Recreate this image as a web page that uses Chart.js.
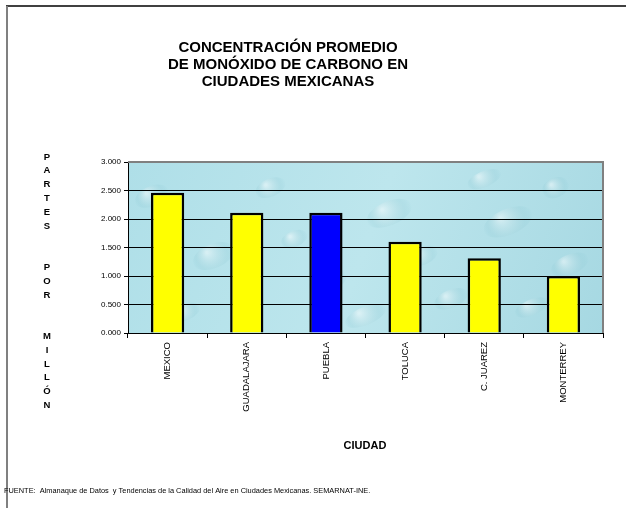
<!DOCTYPE html>
<html>
<head>
<meta charset="utf-8">
<script src="https://cdn.jsdelivr.net/npm/chart.js@4.4.1/dist/chart.umd.min.js"></script>
<style>
  html, body { margin: 0; padding: 0; background: #ffffff; }
  #wrap { width: 626px; height: 508px; position: relative; }
</style>
</head>
<body>
<div id="wrap"><canvas id="c" width="626" height="508"></canvas></div>
<script>
const categories = ['MEXICO', 'GUADALAJARA', 'PUEBLA', 'TOLUCA', 'C. JUAREZ', 'MONTERREY'];
const values = [2.46, 2.11, 2.11, 1.60, 1.31, 1.00];
const barColors = ['#ffff00', '#ffff00', '#0000ff', '#ffff00', '#ffff00', '#ffff00'];
const titleLines = ['CONCENTRACIÓN PROMEDIO', 'DE MONÓXIDO DE CARBONO EN', 'CIUDADES MEXICANAS'];
const yLabelLetters = ['P','A','R','T','E','S','','','P','O','R','','','M','I','L','L','Ó','N'];
const xTitle = 'CIUDAD';
const footer = 'FUENTE:  Almanaque de Datos  y Tendencias de la Calidad del Aire en Ciudades Mexicanas. SEMARNAT-INE.';
const yMin = 0, yMax = 3, yStep = 0.5;

const decor = {
  id: 'decor',
  beforeDraw(chart) {
    const { ctx, chartArea: a } = chart;
    ctx.save();
    ctx.fillStyle = '#ffffff';
    ctx.fillRect(0, 0, chart.width, chart.height);
    // frame
    ctx.strokeStyle = '#000000';
    ctx.lineWidth = 1.5;
    ctx.beginPath(); ctx.moveTo(6, 6); ctx.lineTo(626, 6); ctx.stroke();
    ctx.strokeStyle = '#808080';
    ctx.lineWidth = 2;
    ctx.beginPath(); ctx.moveTo(7, 6); ctx.lineTo(7, 508); ctx.stroke();
    // water-like background
    const g = ctx.createLinearGradient(a.left, a.top, a.right, a.bottom);
    g.addColorStop(0, '#afdfe8');
    g.addColorStop(0.5, '#bde6ed');
    g.addColorStop(1, '#a6d8e2');
    ctx.fillStyle = g;
    ctx.fillRect(a.left, a.top, a.right - a.left, a.bottom - a.top);
    ctx.beginPath(); ctx.rect(a.left, a.top, a.right - a.left, a.bottom - a.top); ctx.clip();
    const w = a.right - a.left, h = a.bottom - a.top;
    const drops = [[0.05,0.2,18,10],[0.18,0.55,22,12],[0.3,0.15,16,9],[0.42,0.7,20,11],[0.55,0.3,24,12],[0.68,0.8,18,9],[0.8,0.35,26,13],[0.93,0.6,20,10],[0.12,0.88,16,8],[0.5,0.9,22,9],[0.75,0.1,18,8],[0.9,0.15,14,10],[0.35,0.45,14,8],[0.62,0.55,16,9],[0.25,0.75,12,7],[0.85,0.85,18,8]];
    drops.forEach(([fx, fy, rx, ry]) => {
      const cx = a.left + fx * w, cy = a.top + fy * h;
      const rg = ctx.createRadialGradient(cx - rx * 0.3, cy - ry * 0.3, 1, cx, cy, rx);
      rg.addColorStop(0, 'rgba(255,255,255,0.45)');
      rg.addColorStop(0.7, 'rgba(150,205,215,0.25)');
      rg.addColorStop(1, 'rgba(120,190,205,0)');
      ctx.fillStyle = rg;
      ctx.beginPath(); ctx.ellipse(cx, cy, rx, ry, -0.4, 0, Math.PI * 2); ctx.fill();
    });
    ctx.restore();
  },
  afterDraw(chart) {
    const { ctx, chartArea: a } = chart;
    ctx.save();
    // plot borders (top and right gray)
    ctx.strokeStyle = '#808080';
    ctx.lineWidth = 2;
    ctx.beginPath();
    ctx.moveTo(a.left, a.top); ctx.lineTo(a.right, a.top); ctx.lineTo(a.right, a.bottom);
    ctx.stroke();
    ctx.fillStyle = '#000000';
    ctx.textAlign = 'center';
    ctx.textBaseline = 'middle';
    // title
    ctx.font = 'bold 15px "Liberation Sans", Arial, sans-serif';
    titleLines.forEach((t, i) => ctx.fillText(t, 288, 48 + i * 17));
    // y label
    ctx.font = 'bold 9.5px "Liberation Sans", Arial, sans-serif';
    yLabelLetters.forEach((t, i) => { if (t) ctx.fillText(t, 47, 157 + i * 13.8); });
    // x title
    ctx.font = 'bold 11px "Liberation Sans", Arial, sans-serif';
    ctx.fillText(xTitle, 365, 446);
    // footer
    ctx.font = '7.4px "Liberation Sans", Arial, sans-serif';
    ctx.textAlign = 'left';
    ctx.fillText(footer, 4, 491);
    ctx.restore();
  }
};

new Chart(document.getElementById('c'), {
  type: 'bar',
  data: {
    labels: categories,
    datasets: [{
      data: values,
      backgroundColor: barColors,
      borderColor: '#000000',
      borderWidth: 2.5,
      barPercentage: 0.42,
      categoryPercentage: 1.0
    }]
  },
  options: {
    responsive: false,
    animation: false,
    devicePixelRatio: 1,
    layout: { padding: { left: 0, right: 23, top: 162, bottom: 0 } },
    plugins: { legend: { display: false }, title: { display: false }, tooltip: { enabled: false } },
    scales: {
      x: {
        afterFit(s) { s.height = 175; },
        grid: { display: true, drawOnChartArea: false, drawTicks: true, tickLength: 5, offset: true, color: '#000000' },
        border: { display: true, color: '#000000', width: 1 },
        ticks: {
          minRotation: 90, maxRotation: 90, autoSkip: false, padding: 4,
          color: '#000000',
          font: { family: '"Liberation Sans", Arial, sans-serif', size: 9.5 }
        }
      },
      y: {
        min: yMin, max: yMax,
        afterFit(s) { s.width = 128; },
        grid: { color: '#000000', lineWidth: 1, drawTicks: true, tickLength: 4 },
        border: { display: true, color: '#000000', width: 1 },
        ticks: {
          stepSize: yStep, padding: 3, color: '#000000',
          font: { family: '"Liberation Sans", Arial, sans-serif', size: 8 },
          callback: v => v.toFixed(3)
        }
      }
    }
  },
  plugins: [decor]
});
</script>
</body>
</html>
